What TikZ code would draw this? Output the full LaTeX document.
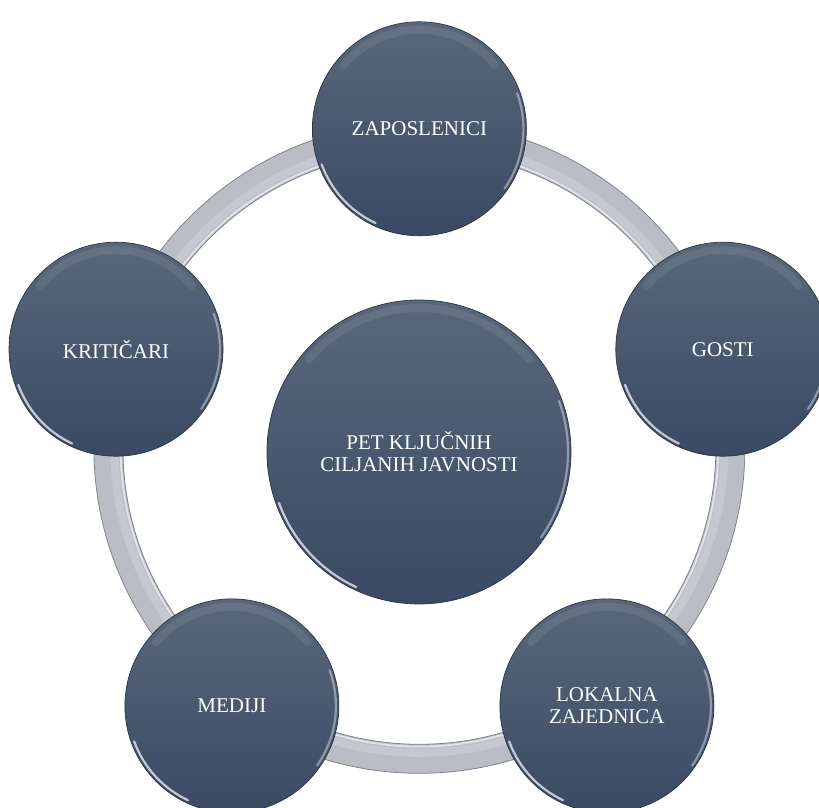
\documentclass[tikz,border=0pt]{standalone}
\usepackage{fontspec}
\setmainfont{Liberation Serif}
\usetikzlibrary{calc}
\definecolor{bubtop}{RGB}{90,103,122}
\definecolor{bubbot}{RGB}{58,74,100}
\definecolor{bubrim}{RGB}{42,52,68}
\definecolor{ringgray}{RGB}{186,189,197}
\definecolor{ringedge}{RGB}{128,132,142}
\tikzset{
  bub/.style={circle, inner sep=0pt, top color=bubtop, bottom color=bubbot,
    draw=bubrim, line width=0.7pt, text=white, align=center,
    font=\fontsize{21}{22}\selectfont},
  sat/.style={bub, minimum size=214pt},
  hub/.style={bub, minimum size=304pt},
  shine/.style={white, line width=2.2pt, opacity=0.7, line cap=round},
  gloss/.style={white, line width=8pt, opacity=0.08, line cap=round},
  ringband/.style={ringgray, line width=29pt},
  ringline/.style={ringedge, line width=0.8pt},
}
\begin{document}
\begin{tikzpicture}[x=1pt,y=1pt]
\useasboundingbox (0,0) rectangle (819,808);
\fill[white] (0,0) rectangle (819,808);
\coordinate (O) at (419.4,360.2);
% ring
\draw[ringband] (O) circle[radius=311];
\draw[ringline] (O) circle[radius=325.5];
\draw[ringline] (O) circle[radius=296.5];
\draw[white, opacity=0.6, line width=1.8pt] (O) circle[radius=298.8];
\draw[white, opacity=0.18, line width=8pt] (O) circle[radius=305];
% circles
\node[hub] (hub) at (419,356) {PET KLJUČNIH\\CILJANIH JAVNOSTI};
\node[sat] (zap) at ($(O)+(90:319)$) {ZAPOSLENICI};
\node[sat] (gos) at ($(O)+(18:319)$) {GOSTI};
\node[sat] (lok) at ($(O)+(-54:319)$) {LOKALNA\\ZAJEDNICA};
\node[sat] (med) at ($(O)+(-126:319)$) {MEDIJI};
\node[sat] (kri) at ($(O)+(162:319)$) {KRITIČARI};
% bevel highlights
\foreach \n/\r in {hub/148, zap/103, gos/103, lok/103, med/103, kri/103}{
  \draw[gloss] ($(\n.center)+(40:\r-4)$) arc[start angle=40, end angle=140, radius=\r-4];
  \draw[shine] ($(\n.center)+(200:\r+1)$) arc[start angle=200, end angle=245, radius=\r+1];
  \draw[shine, opacity=0.4] ($(\n.center)+(-35:\r+1)$) arc[start angle=-35, end angle=20, radius=\r+1];
}
\end{tikzpicture}
\end{document}
